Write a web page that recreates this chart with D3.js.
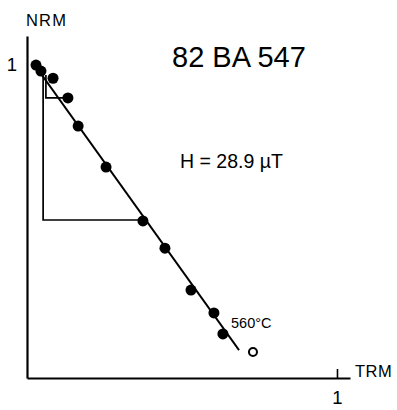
<!DOCTYPE html>
<html lang="en">
<head>
<meta charset="UTF-8">
<title>82 BA 547 Arai plot</title>
<style>
  body { margin: 0; background: #fff; }
  text { font-family: "Liberation Sans", Arial, sans-serif; fill: #000; }
</style>
</head>
<body>
<svg width="397" height="410"></svg>
<script src="https://d3js.org/d3.v7.min.js"></script>
<script>
// TRM gained (x) vs NRM remaining (y), normalised
var trmFilled = [0.029, 0.045, 0.084, 0.132, 0.165, 0.255, 0.374, 0.445, 0.529, 0.603, 0.632];
var nrmFilled = [1.000, 0.981, 0.958, 0.895, 0.805, 0.674, 0.502, 0.415, 0.281, 0.208, 0.141];
var trmOpen = [0.729];
var nrmOpen = [0.083];
// best-fit line end points
var fitTrm = [0.023, 0.684];
var fitNrm = [1.003, 0.089];
// pTRM check triangles: [x start, y top, y bottom, x end]
var checks = [
  [0.052, 0.968, 0.505, 0.374],
  [0.061, 0.968, 0.895, 0.129]
];
var title = "82 BA 547";
var fieldLabel = "H = 28.9 \u00b5T";
var tempLabel = "560\u00b0C";

var svg = d3.select("svg");

var x = d3.scaleLinear().domain([0, 1.042]).range([27, 350]);
var y = d3.scaleLinear().domain([0, 1.093]).range([378, 36]);

// axes
var xAxis = svg.append("g")
    .attr("transform", "translate(0," + y(0) + ")")
    .call(d3.axisBottom(x).tickValues([1]).tickFormat(d3.format("d"))
      .tickSizeInner(-9).tickSizeOuter(0).tickPadding(13));
var yAxis = svg.append("g")
    .attr("transform", "translate(" + x(0) + ",0)")
    .call(d3.axisLeft(y).tickValues([1]).tickFormat(d3.format("d"))
      .tickSizeInner(0).tickSizeOuter(0).tickPadding(10));

[xAxis, yAxis].forEach(function(a) {
  a.select(".domain").attr("stroke", "#000").attr("stroke-width", 2.2);
  a.selectAll(".tick line").attr("stroke", "#000").attr("stroke-width", 1.6);
  a.selectAll(".tick text")
    .style("font-family", "Liberation Sans, Arial, sans-serif")
    .style("font-size", "18.5px")
    .attr("fill", "#000");
});
yAxis.selectAll(".tick text").attr("dy", "0.3em");

svg.append("text").attr("x", x(0) - 1).attr("y", 26)
  .style("font-size", "16.5px").attr("letter-spacing", 1.2).text("NRM");
svg.append("text").attr("x", 355).attr("y", 377)
  .style("font-size", "16.5px").attr("letter-spacing", 0.5).text("TRM");

// pTRM checks
checks.forEach(function(c) {
  svg.append("path")
    .attr("d", "M" + x(c[0]) + "," + y(c[1]) + "V" + y(c[2]) + "H" + x(c[3]))
    .attr("fill", "none").attr("stroke", "#000").attr("stroke-width", 1.7);
});

// fit line
svg.append("line")
  .attr("x1", x(fitTrm[0])).attr("y1", y(fitNrm[0]))
  .attr("x2", x(fitTrm[1])).attr("y2", y(fitNrm[1]))
  .attr("stroke", "#000").attr("stroke-width", 1.9);

// points
svg.selectAll(".filled").data(d3.range(trmFilled.length)).enter().append("circle")
  .attr("class", "filled")
  .attr("cx", function(i) { return x(trmFilled[i]); })
  .attr("cy", function(i) { return y(nrmFilled[i]); })
  .attr("r", 5.5).attr("fill", "#000");

svg.selectAll(".open").data(d3.range(trmOpen.length)).enter().append("circle")
  .attr("class", "open")
  .attr("cx", function(i) { return x(trmOpen[i]); })
  .attr("cy", function(i) { return y(nrmOpen[i]); })
  .attr("r", 4).attr("fill", "#fff").attr("stroke", "#000").attr("stroke-width", 2);

// labels
svg.append("text").attr("x", 172).attr("y", 67).style("font-size", "29px").text(title);
svg.append("text").attr("x", 180).attr("y", 168).style("font-size", "19.5px").text(fieldLabel);
svg.append("text").attr("x", 231).attr("y", 328).style("font-size", "14.5px").text(tempLabel);
</script>
</body>
</html>
